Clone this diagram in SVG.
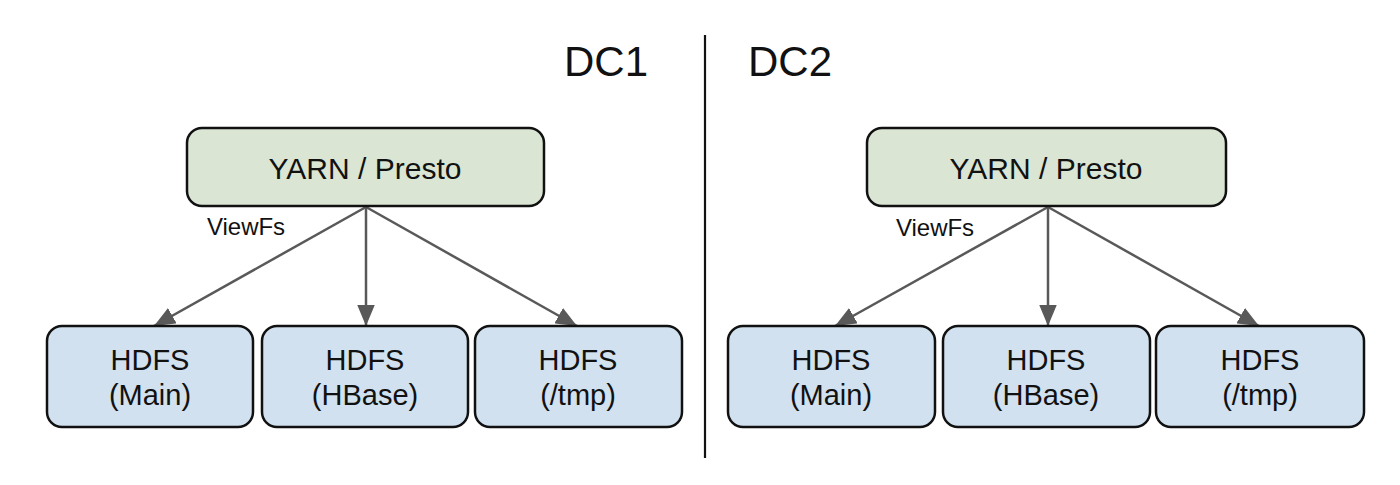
<svg xmlns="http://www.w3.org/2000/svg" width="1400" height="485" viewBox="0 0 1400 485">
<defs>
<style>
.t{font-family:"Liberation Sans",Arial,sans-serif;fill:#111;text-anchor:middle}
.yarn{fill:#dae5d3;stroke:#111;stroke-width:2.5}
.hdfs{fill:#d2e1ef;stroke:#111;stroke-width:2.5}
.c{stroke:#595959;stroke-width:2.5;fill:none;marker-end:url(#ah)}
</style>
<marker id="ah" viewBox="0 0 12 10" refX="12" refY="5" markerWidth="8.4" markerHeight="7" orient="auto" markerUnits="strokeWidth">
<path d="M0,0 L12,5 L0,10 z" fill="#595959"/>
</marker>
</defs>
<rect width="1400" height="485" fill="#fff"/>
<g id="divider"><line x1="705" y1="35" x2="705" y2="458" stroke="#111" stroke-width="2.2"/></g>
<g id="titles">
<text class="t" x="606" y="76" font-size="42">DC1</text>
<text class="t" x="790" y="76" font-size="42">DC2</text>
</g>
<g id="connectors">
<line class="c" x1="366" y1="207" x2="154" y2="326"/>
<line class="c" x1="366" y1="207" x2="366" y2="326"/>
<line class="c" x1="366" y1="207" x2="577" y2="326"/>
<line class="c" x1="1048" y1="207" x2="835" y2="326"/>
<line class="c" x1="1048" y1="207" x2="1048" y2="326"/>
<line class="c" x1="1048" y1="207" x2="1259" y2="326"/>
<text class="t" x="246" y="235" font-size="24">ViewFs</text>
<text class="t" x="935" y="236" font-size="24">ViewFs</text>
</g>
<g id="dc1-yarn"><rect class="yarn" x="187" y="128" width="357" height="78" rx="15"/><text class="t" x="365" y="179" font-size="30">YARN / Presto</text></g>
<g id="dc1-main"><rect class="hdfs" x="47" y="326" width="206" height="101" rx="15"/><text class="t" x="150" y="370" font-size="29">HDFS</text><text class="t" x="150" y="405" font-size="29">(Main)</text></g>
<g id="dc1-hbase"><rect class="hdfs" x="262" y="326" width="206" height="101" rx="15"/><text class="t" x="365" y="370" font-size="29">HDFS</text><text class="t" x="365" y="405" font-size="29">(HBase)</text></g>
<g id="dc1-tmp"><rect class="hdfs" x="475" y="326" width="207" height="101" rx="15"/><text class="t" x="578" y="370" font-size="29">HDFS</text><text class="t" x="578" y="405" font-size="29">(/tmp)</text></g>
<g id="dc2-yarn"><rect class="yarn" x="867" y="128" width="359" height="78" rx="15"/><text class="t" x="1046" y="179" font-size="30">YARN / Presto</text></g>
<g id="dc2-main"><rect class="hdfs" x="728" y="326" width="207" height="101" rx="15"/><text class="t" x="831" y="370" font-size="29">HDFS</text><text class="t" x="831" y="405" font-size="29">(Main)</text></g>
<g id="dc2-hbase"><rect class="hdfs" x="943" y="326" width="207" height="101" rx="15"/><text class="t" x="1046" y="370" font-size="29">HDFS</text><text class="t" x="1046" y="405" font-size="29">(HBase)</text></g>
<g id="dc2-tmp"><rect class="hdfs" x="1156" y="326" width="208" height="101" rx="15"/><text class="t" x="1260" y="370" font-size="29">HDFS</text><text class="t" x="1260" y="405" font-size="29">(/tmp)</text></g>
</svg>
